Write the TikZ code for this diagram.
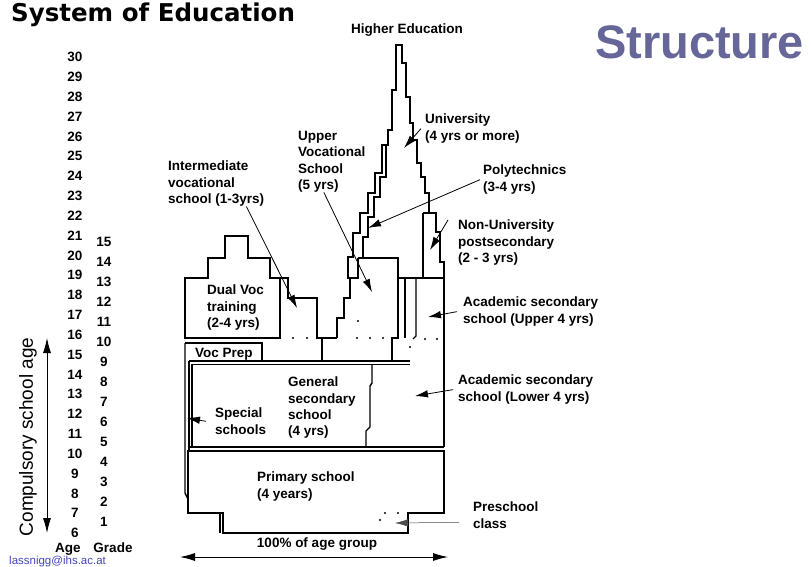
\documentclass[tikz,border=0pt]{standalone}
\usepackage{fontspec}
\setmainfont{Liberation Sans}
\newfontfamily\titlefont{DejaVu Sans}
\usetikzlibrary{arrows.meta}
\definecolor{structblue}{RGB}{102,102,153}
\definecolor{maillink}{RGB}{70,70,190}
\newcommand{\lblfont}{\fontsize{13.5}{16.3}\selectfont\bfseries}

\begin{document}
\begin{tikzpicture}[x=1pt, y=-1pt,
    lbl/.style={font=\lblfont, align=left, inner sep=0pt, anchor=north west},
    num/.style={font=\lblfont, inner sep=0pt},
    wall/.style={line width=1.4pt, line join=miter},
    tower/.style={line width=2.1pt, line join=miter},
    pointer/.style={line width=0.8pt, -{Latex[length=13pt,width=7.5pt]}},
    span/.style={line width=0.8pt, {Latex[length=15pt,width=8pt]}-{Latex[length=15pt,width=8pt]}}]

    % page
    \fill[white] (0,0) rectangle (811,567);
    \useasboundingbox (0,0) rectangle (811,567);

    % headings
    \node[font=\titlefont\bfseries\fontsize{24.5}{27}\selectfont, inner sep=0pt, anchor=base west] (title) at (11,22) {System of Education};
    \node[font=\bfseries\fontsize{47}{50}\selectfont, text=structblue, inner sep=0pt, anchor=base west] (struct) at (595,59) {Structure};
    \node[font=\fontsize{11.5}{13}\selectfont, text=maillink, inner sep=0pt, anchor=north west] (mail) at (9,556) {lassnigg@ihs.ac.at};

    % age and grade scales
    \foreach \a in {6,...,30}
        \node[num] (age\a) at (75,533-19.83*\a+119) {\a};
    \foreach \g in {1,...,15}
        \node[num] (gr\g) at (104,522-20*\g+20) {\g};
    \node[num, anchor=base] (agehead) at (68,552) {Age};
    \node[num, anchor=base] (gradehead) at (113,552) {Grade};
    \node[font=\fontsize{19}{22}\selectfont, rotate=90, inner sep=0pt] (compul) at (28,437) {Compulsory school age};
    \coordinate (comptop) at (47,338);
    \coordinate (compbot) at (47,533);
    \draw[span] (comptop) -- (compbot);

    % primary school
    \draw[wall] (188,451) -- (444,451) -- (444,513) -- (408,513) -- (408,533) -- (223,533) -- (223,513) -- (188,513) -- cycle;
    \draw[wall] (220,513) -- (220,533);

    % lower secondary, special schools, voc prep
    \draw[wall] (189,447) -- (444,447);
    \draw[wall] (189,361) -- (410,361);
    \draw[wall] (192,364.5) -- (410,364.5);
    \draw[wall] (192,364) -- (192,447);
    \draw[wall] (372,364) -- (372,383) -- (370,386) -- (370,427) -- (366,431) -- (366,447);
    \draw[wall] (185,343) -- (185,493) -- (188,499) -- (188,513);
    \draw[wall] (189,361) -- (189,451);
    \draw[wall] (185,343) -- (262,343) -- (262,361);

    % dual vocational training and intermediate school
    \draw[wall] (185,338) -- (185,278) -- (208,278) -- (208,258) -- (225,258) -- (225,236) -- (248,236) -- (248,258) -- (270,258) -- (270,278) -- (280,278) -- (280,338) -- cycle;
    \draw[wall] (280,278) -- (288,278) -- (288,298) -- (317,298) -- (317,338) -- (337,338);
    \draw[wall] (322,338) -- (322,361);

    % upper vocational school
    \draw[tower] (337,338) -- (337,318) -- (344,318) -- (344,298) -- (350,298) -- (350,278);
    \draw[wall] (358,258) -- (398,258) -- (398,338) -- (392,338) -- (392,361);

    % higher education tower
    \draw[tower] (358,258) -- (358,278) -- (348,278) -- (348,257) -- (353,257) -- (353,233) -- (360,233) -- (360,213) -- (368,213) -- (368,193) -- (375,193) -- (375,173) -- (382,173) -- (382,145) -- (388,145) -- (388,130) -- (392,130) -- (392,90) -- (396,90) -- (396,45) -- (402,45) -- (402,63) -- (406,63) -- (406,97) -- (410,97) -- (410,123) -- (413,123) -- (413,140) -- (417,140) -- (417,163) -- (421,163) -- (421,177) -- (425,177) -- (425,193) -- (429,193) -- (429,213) -- (436,213) -- (436,232) -- (440,232) -- (440,262) -- (444,262) -- (444,278);
    \draw[tower] (363,258) -- (363,237) -- (368,237) -- (368,217) -- (374,217) -- (374,197) -- (380,197) -- (380,177) -- (386,177) -- (386,145);
    \draw[wall] (423,213) -- (429,213);
    \draw[wall] (423,213) -- (423,278);

    % academic secondary
    \draw[wall] (398,278) -- (444,278) -- (444,447);
    \draw[wall] (405,278) -- (405,338);
    \draw[wall] (416,278) -- (416,336) -- (413,339);

    % open ends
    \foreach \px/\py in {293/338, 307/338, 357/338, 370/338, 383/338, 358/321, 425/339, 437/339, 410/347, 385/513, 398/513, 380/520}
        \fill (\px,\py) circle (1.1pt);

    % labels
    \node[font=\lblfont, inner sep=0pt, anchor=base] (higher) at (407,34) {Higher Education};
    \node[lbl] (univ) at (425,114) {University\\(4 yrs or more)};
    \node[lbl] (upvoc) at (298,131) {Upper\\Vocational\\School\\(5 yrs)};
    \node[lbl] (inter) at (168,161) {Intermediate\\vocational\\school (1-3yrs)};
    \node[lbl] (poly) at (483,165) {Polytechnics\\(3-4 yrs)};
    \node[lbl] (nonuni) at (458,220) {Non-University\\postsecondary\\(2 - 3 yrs)};
    \node[lbl] (acup) at (463,297) {Academic secondary\\school (Upper 4 yrs)};
    \node[lbl] (aclow) at (458,375) {Academic secondary\\school (Lower 4 yrs)};
    \node[lbl] (dual) at (207,285) {Dual Voc\\training\\(2-4 yrs)};
    \node[lbl] (vocprep) at (195,348) {Voc Prep};
    \node[lbl] (gensec) at (288,377) {General\\secondary\\school\\(4 yrs)};
    \node[lbl] (special) at (215,408) {Special\\schools};
    \node[lbl] (primary) at (257,472) {Primary school\\(4 years)};
    \node[lbl] (presch) at (473,502) {Preschool\\class};
    \node[font=\lblfont, inner sep=0pt] (agegroup) at (317,544) {100\% of age group};

    % pointer targets
    \coordinate (univpt) at (404,148);
    \coordinate (upvocpt) at (372,292);
    \coordinate (interpt) at (297,308);
    \coordinate (polypt) at (368,228);
    \coordinate (nonunipt) at (430,250);
    \coordinate (acuppt) at (428,317);
    \coordinate (aclowpt) at (415,396);
    \coordinate (specialpt) at (187,418);
    \coordinate (preschpt) at (395,523);
    \coordinate (groupleft) at (180,557);
    \coordinate (groupright) at (448,557);

    % pointers
    \draw[pointer] ([xshift=-4pt]univ.west) -- (univpt);
    \draw[pointer] ([xshift=-8pt]upvoc.south) -- (upvocpt);
    \draw[pointer] ([xshift=-18pt]inter.south east) -- (interpt);
    \draw[pointer] ([xshift=-3pt]poly.west) -- (polypt);
    \draw[pointer] ([xshift=-10pt]nonuni.north west) -- (nonunipt);
    \draw[pointer] ([xshift=-6pt]acup.west) -- (acuppt);
    \draw[pointer] ([xshift=-5pt]aclow.west) -- (aclowpt);
    \draw[pointer] ([xshift=-9pt]special.west) -- (specialpt);
    \draw[pointer, line width=0.5pt, draw=black!70] ([xshift=-14pt,yshift=-7pt]presch.west) -- (preschpt);
    \draw[span, line width=0.9pt] (groupleft) -- (groupright);
\end{tikzpicture}
\end{document}
